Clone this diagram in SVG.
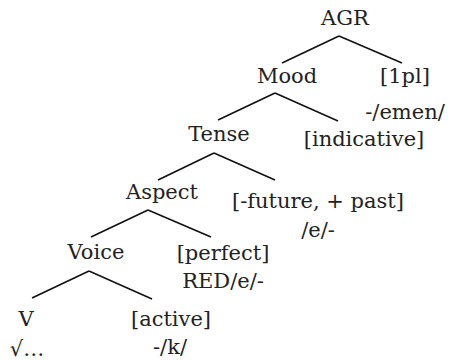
<svg xmlns="http://www.w3.org/2000/svg" width="449" height="362" viewBox="0 0 449 362">
<style>
text{font-family:"DejaVu Serif","Liberation Serif",serif;font-size:21px;fill:#222;text-anchor:middle}
.e line{stroke:#111;stroke-width:1.6;stroke-linecap:butt}
</style>
<rect width="449" height="362" fill="#fff"/>
<g id="connectors" class="e">
<line x1="339" y1="36" x2="282" y2="63"/>
<line x1="339" y1="36" x2="402" y2="63"/>
<line x1="275" y1="93" x2="218" y2="120"/>
<line x1="275" y1="93" x2="338" y2="121"/>
<line x1="214" y1="153" x2="158" y2="180"/>
<line x1="214" y1="153" x2="275" y2="180"/>
<line x1="148" y1="210" x2="91" y2="237"/>
<line x1="148" y1="210" x2="211" y2="237"/>
<line x1="89" y1="271" x2="32" y2="298"/>
<line x1="89" y1="271" x2="152" y2="299"/>
</g>
<g id="agr"><text x="345" y="25">AGR</text></g>
<g id="mood"><text x="287" y="83">Mood</text></g>
<g id="pl"><text x="405" y="83">[1pl]</text><text x="405" y="119">-/emen/</text></g>
<g id="tense"><text x="219" y="141">Tense</text></g>
<g id="indicative"><text x="364" y="146">[indicative]</text></g>
<g id="aspect"><text x="162" y="199">Aspect</text></g>
<g id="past"><text x="318" y="208">[-future, + past]</text><text x="318" y="237">/e/-</text></g>
<g id="voice"><text x="96" y="259">Voice</text></g>
<g id="perfect"><text x="223" y="260">[perfect]</text><text x="223" y="288">RED/e/-</text></g>
<g id="v"><text x="26" y="326">V</text><text x="27" y="356">√…</text></g>
<g id="active"><text x="171" y="326">[active]</text><text x="170" y="354">-/k/</text></g>
</svg>
